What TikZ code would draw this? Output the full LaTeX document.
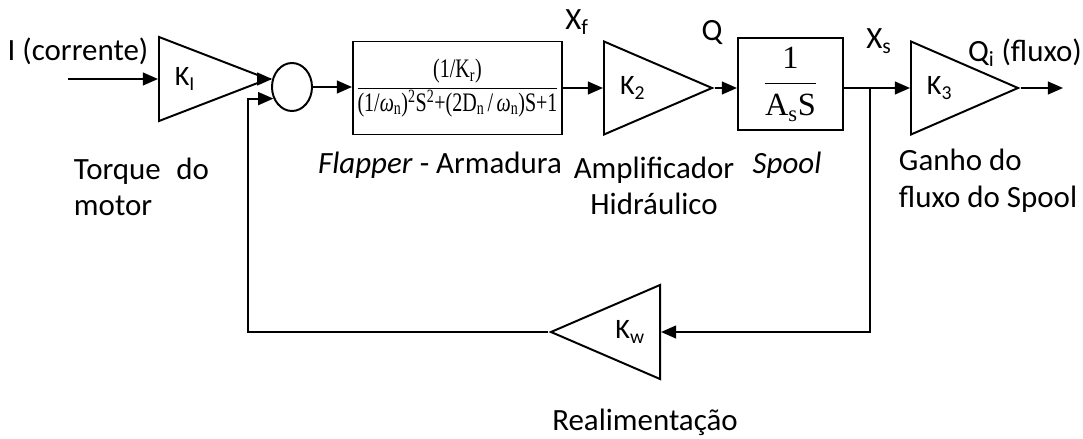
\documentclass[tikz,border=0pt]{standalone}
\usepackage{fontspec}
\usepackage{graphicx}
\setmainfont{Carlito}
\newfontfamily\eqfont{Liberation Serif}
\usetikzlibrary{positioning, arrows.meta, shapes.geometric}

\begin{document}
\begin{tikzpicture}[x=0.025cm, y=-0.025cm, >={Triangle[length=0.38cm, width=0.32cm]},
  line width=1.4pt, font=\fontsize{22}{26}\selectfont,
  amp/.style={draw, isosceles triangle, isosceles triangle stretches, inner sep=0pt, anchor=lower side, font=\fontsize{20}{22}\selectfont},
  blk/.style={draw, rectangle, inner sep=0pt},
  txt/.style={inner sep=0pt}]
  \useasboundingbox (0,0) rectangle (1083,439);
  % forward path
  \coordinate (in) at (68,79);
  \node[amp, minimum width=2.1cm, minimum height=2.725cm] (KI) at (158,79) {K\textsubscript{I}};
  \node[draw, ellipse, minimum width=1cm, minimum height=1.2cm, inner sep=0pt] (sum) at (292,87) {};
  \node[blk, minimum width=5.225cm, minimum height=2.325cm] (blk1) at (457.5,88)
    {\eqfont\fontsize{19}{21}\selectfont\scalebox{0.75}[1]{$\displaystyle\frac{\hbox{(1/K\textsubscript{r})}}{\hbox{(1/\textit{ω}\textsubscript{n})\textsuperscript{2}S\textsuperscript{2}+(2D\textsubscript{n}\,/\,\textit{ω}\textsubscript{n})S+1}}$}};
  \node[amp, minimum width=2.325cm, minimum height=2.7cm] (K2) at (603,88) {K\textsubscript{2}};
  \node[blk, minimum width=2.625cm, minimum height=2.3cm] (blk2) at (790.5,84)
    {\eqfont\fontsize{23}{25}\selectfont $\displaystyle\frac{\hbox{1}}{\hbox{A\textsubscript{s}S}}$};
  \coordinate (jn) at (870,88);
  \node[amp, minimum width=2.325cm, minimum height=2.675cm] (K3) at (910,88) {K\textsubscript{3}};
  \coordinate (out) at (1063,88);
  % feedback path
  \node[amp, shape border rotate=180, minimum width=2.35cm, minimum height=2.725cm] (Kw) at (661,332) {K\textsubscript{w}};
  \coordinate (fb) at (248,332);

  \draw[->] (in) -- (KI.lower side);
  \draw[->] (KI.apex) -- (KI.apex -| sum.157);
  \draw[->] (sum.east) -- (sum.east -| blk1.west);
  \draw[->] (blk1.east) -- (K2.lower side);
  \draw[->] (K2.apex) -- (K2.apex -| blk2.west);
  \draw[->] (jn -| blk2.east) -- (K3.lower side);
  \draw[->] (K3.apex) -- (out);
  \draw[->] (jn) |- (Kw.lower side);
  \draw[->] (Kw.apex) -- (fb) |- (sum.212);

  % labels
  \node[txt] (cur) at (78,51) {I (corrente)};
  \node[txt] (xf) at (577,22) {X\textsubscript{f}};
  \node[txt] (q) at (712,33) {Q};
  \node[txt] (xs) at (879,41) {X\textsubscript{s}};
  \node[txt] (qi) at (1025,53) {Q\textsubscript{i} (fluxo)};
  \node[txt, align=left, anchor=west] (torq) at (73,187) {Torque\enspace do\\motor};
  \node[txt] (flap) at (440,165) {\textit{Flapper} - Armadura};
  \node[txt, align=center] (amph) at (654,186) {Amplificador\\Hidráulico};
  \node[txt] (spool) at (787,165) {\textit{Spool}};
  \node[txt, align=left, anchor=west] (ganho) at (898,181) {Ganho do\\fluxo do Spool};
  \node[txt, anchor=base] (real) at (645,430) {Realimentação};
\end{tikzpicture}
\end{document}
